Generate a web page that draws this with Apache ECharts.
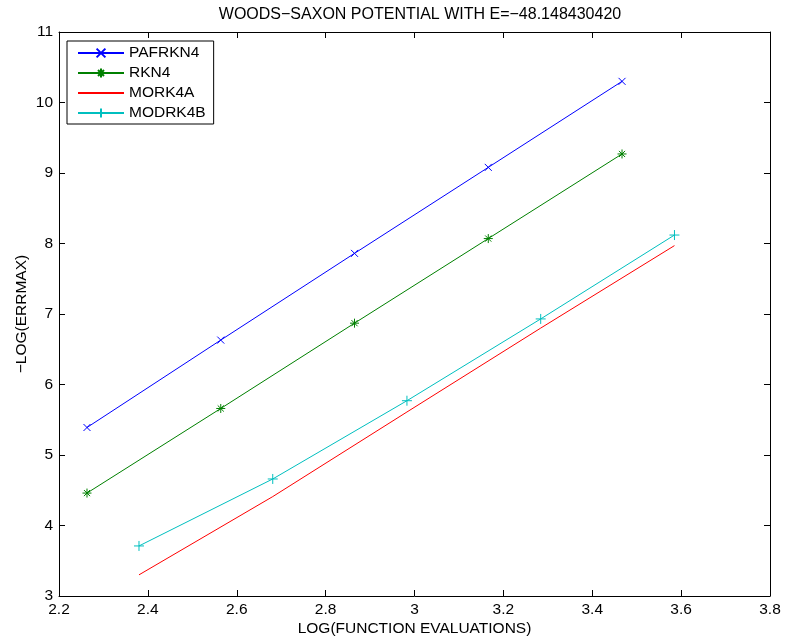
<!DOCTYPE html>
<html>
<head>
<meta charset="utf-8">
<script src="https://cdn.jsdelivr.net/npm/echarts@6/dist/echarts.min.js"></script>
<style>
html,body{margin:0;padding:0;background:#fff;}
#chart{width:786px;height:642px;}
</style>
</head>
<body>
<div id="chart"></div>
<script>
// ---- data ----
var seriesNames = ['PAFRKN4', 'RKN4', 'MORK4A', 'MODRK4B'];
var xPafrkn4 = [2.263, 2.564, 2.865, 3.166, 3.467];
var yPafrkn4 = [5.39, 6.63, 7.86, 9.08, 10.30];
var xRkn4 = [2.263, 2.564, 2.865, 3.166, 3.467];
var yRkn4 = [4.46, 5.66, 6.87, 8.07, 9.27];
var xMork4a = [2.380, 2.681, 2.983, 3.284, 3.585];
var yMork4a = [3.30, 4.41, 5.61, 6.80, 7.97];
var xModrk4b = [2.380, 2.681, 2.983, 3.284, 3.585];
var yModrk4b = [3.71, 4.66, 5.77, 6.93, 8.12];
var xTickMin = 2.2, xTickMax = 3.8, xTickStep = 0.2;
var yTickMin = 3, yTickMax = 11, yTickStep = 1;
var titleText = 'WOODS\u2212SAXON POTENTIAL WITH E=\u221248.148430420';
var xLabel = 'LOG(FUNCTION EVALUATIONS)';
var yLabel = '\u2212LOG(ERRMAX)';

function pairs(xs, ys) { return xs.map(function (x, i) { return [x, ys[i]]; }); }

var FONT = '"Liberation Sans", Arial, Helvetica, sans-serif';
var symX = 'path://M0,0L10,10M10,0L0,10';
var symStar = 'path://M5,0L5,10M0,5L10,5M1.6,1.6L8.4,8.4M8.4,1.6L1.6,8.4';
var symPlus = 'path://M5,0L5,10M0,5L10,5';

function mkSeries(name, data, color, symbol, size) {
  var s = {
    name: name, type: 'line', data: data,
    xAxisIndex: 0, yAxisIndex: 0,
    symbol: symbol || 'circle', symbolSize: size || 1, showSymbol: !!symbol,
    lineStyle: { color: color, width: 1 },
    itemStyle: symbol ? { color: color, borderColor: color, borderWidth: 1 }
                      : { color: 'rgba(0,0,0,0)', borderColor: 'rgba(0,0,0,0)', borderWidth: 0 },
    emphasis: { disabled: true },
    animation: false, z: 3
  };
  return s;
}

var tickLabel = { color: '#000', fontFamily: FONT, fontSize: 15.5 };
function xAx(pos, show) {
  return {
    type: 'value', position: pos, min: xTickMin, max: xTickMax, interval: xTickStep,
    axisLine: { show: true, onZero: false, lineStyle: { color: '#000', width: 1 } },
    axisTick: { show: true, inside: true, length: 6, lineStyle: { color: '#000' } },
    axisLabel: Object.assign({ show: show, margin: 6,
      formatter: function (v) { return String(Math.round(v * 10) / 10); } }, tickLabel),
    splitLine: { show: false },
    name: show ? xLabel : '', nameLocation: 'middle', nameGap: 25, nameMoveOverlap: false,
    nameTextStyle: { color: '#000', fontFamily: FONT, fontSize: 15.5 }
  };
}
function yAx(pos, show) {
  return {
    type: 'value', position: pos, min: yTickMin, max: yTickMax, interval: yTickStep,
    axisLine: { show: true, onZero: false, lineStyle: { color: '#000', width: 1 } },
    axisTick: { show: true, inside: true, length: 6, lineStyle: { color: '#000' } },
    axisLabel: Object.assign({ show: show, margin: 6 }, tickLabel),
    splitLine: { show: false },
    name: show ? yLabel : '', nameLocation: 'middle', nameGap: 29, nameMoveOverlap: false,
    nameTextStyle: { color: '#000', fontFamily: FONT, fontSize: 15.5 }
  };
}

var chart = echarts.init(document.getElementById('chart'), null, { renderer: 'canvas' });
chart.setOption({
  animation: false,
  backgroundColor: '#fff',
  title: {
    text: titleText, left: 415, top: 2, textAlign: 'center',
    textStyle: { color: '#000', fontFamily: FONT, fontSize: 16, fontWeight: 'normal' }
  },
  legend: {
    orient: 'vertical', left: 67, top: 41,
    data: seriesNames,
    itemWidth: 46, itemHeight: 11, itemGap: 0,
    padding: [2, 8, 1, 10],
    backgroundColor: '#fff', borderColor: '#000', borderWidth: 1,
    textStyle: { color: '#000', fontFamily: FONT, fontSize: 15.5, lineHeight: 20 },
    selectedMode: false
  },
  grid: { left: 59, right: 16, top: 32, bottom: 46, containLabel: false },
  xAxis: [xAx('bottom', true), xAx('top', false)],
  yAxis: [yAx('left', true), yAx('right', false)],
  series: [
    mkSeries(seriesNames[0], pairs(xPafrkn4, yPafrkn4), '#0000ff', symX, 7),
    mkSeries(seriesNames[1], pairs(xRkn4, yRkn4), '#008000', symStar, 9),
    mkSeries(seriesNames[2], pairs(xMork4a, yMork4a), '#ff0000', null, 0),
    mkSeries(seriesNames[3], pairs(xModrk4b, yModrk4b), '#00bfbf', symPlus, 10)
  ]
});
</script>
</body>
</html>
